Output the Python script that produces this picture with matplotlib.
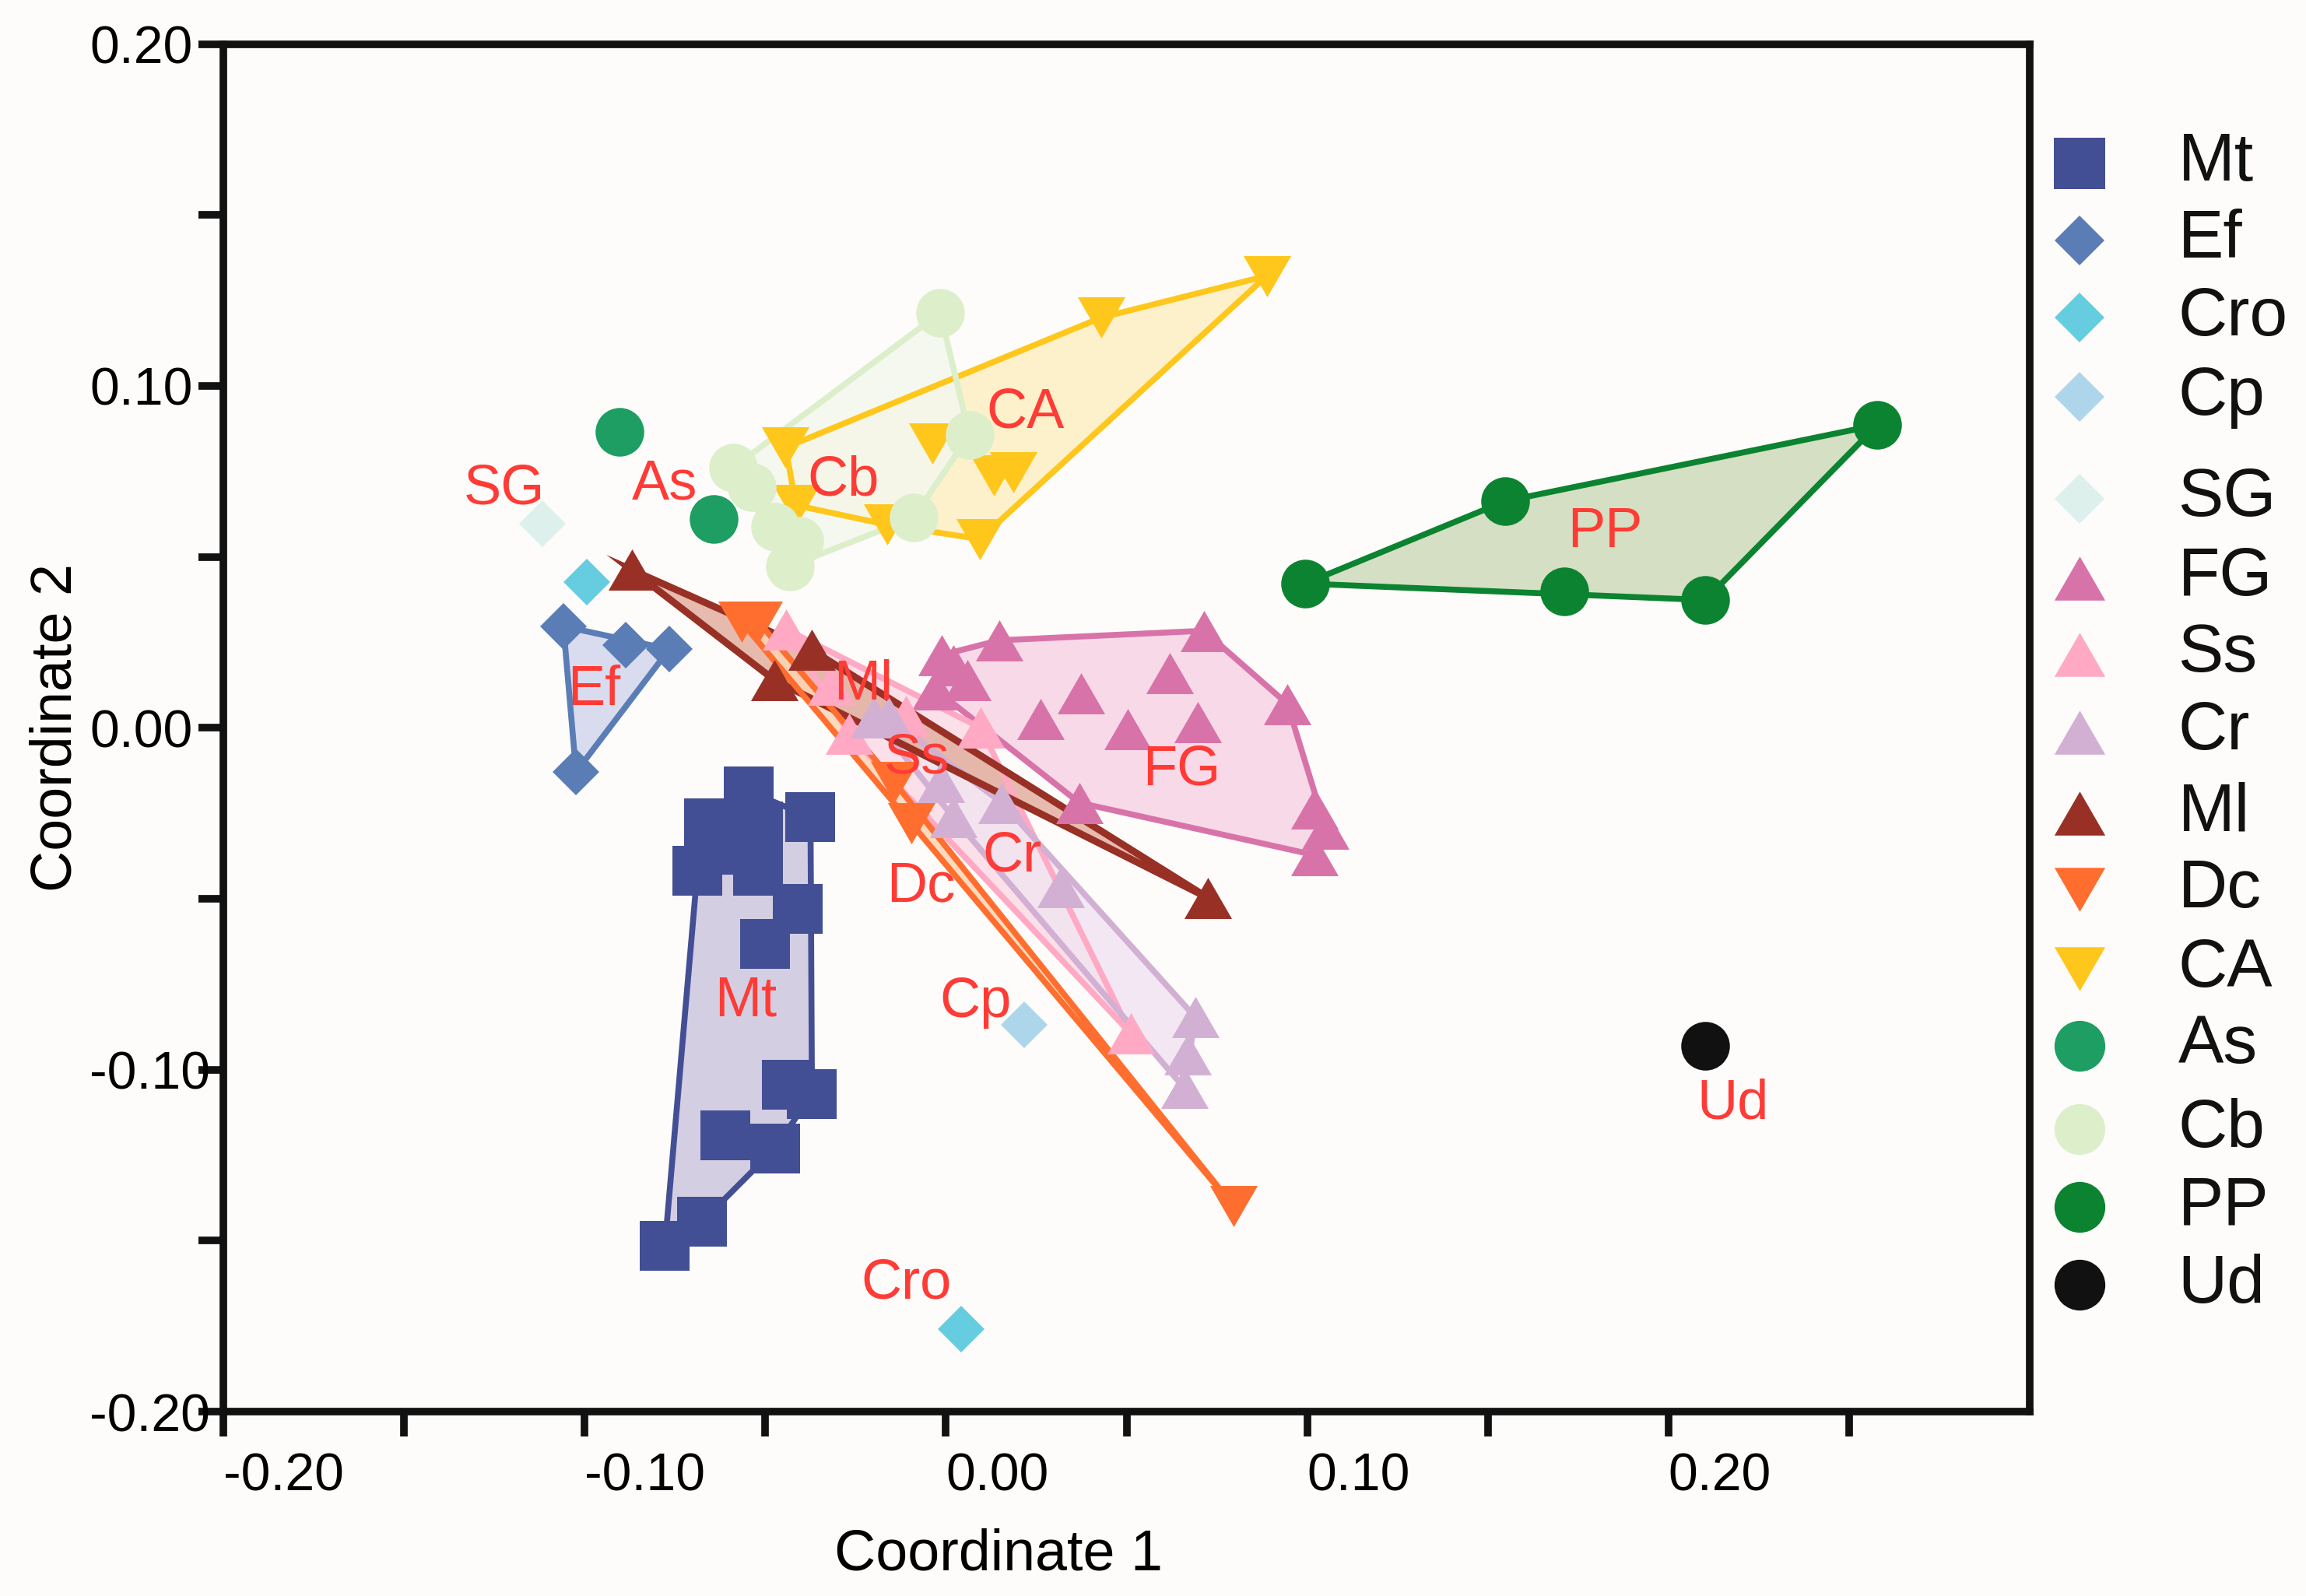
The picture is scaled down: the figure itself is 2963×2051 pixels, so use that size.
import numpy as np
import matplotlib
matplotlib.use("Agg")
import matplotlib.pyplot as plt
from matplotlib.patches import Polygon
from matplotlib.path import Path
from matplotlib.ticker import FixedLocator

plt.rcParams['font.family'] = ['Liberation Sans', 'DejaVu Sans']

# ---------------- data ----------------
groups = ['Mt', 'Ef', 'Cro', 'Cp', 'SG', 'FG', 'Ss', 'Cr', 'Ml', 'Dc', 'CA', 'As', 'Cb', 'PP', 'Ud']

mt_x = [-0.0546, -0.0375, -0.0656, -0.0521, -0.0595, -0.0688, -0.0521, -0.0411, -0.0501, -0.0440, -0.0371, -0.0611, -0.0473, -0.0676, -0.0778]
mt_y = [-0.0185, -0.0262, -0.0280, -0.0288, -0.0357, -0.0417, -0.0417, -0.0529, -0.0632, -0.1043, -0.1071, -0.1191, -0.1230, -0.1445, -0.1514]
ef_x = [-0.1059, -0.0886, -0.0766, -0.1024]
ef_y = [0.0297, 0.0241, 0.0230, -0.0129]
cro_x = [-0.0994, 0.0041]
cro_y = [0.0426, -0.1759]
cp_x = [0.0216]
cp_y = [-0.0869]
sg_x = [-0.1116]
sg_y = [0.0596]
fg_x = [-0.0012, 0.0020, -0.0029, 0.0060, 0.0147, 0.0714, 0.0261, 0.0373, 0.0619, 0.0503, 0.0697, 0.0945, 0.0369, 0.1020, 0.1051, 0.1020]
fg_y = [0.0213, 0.0182, 0.0112, 0.0139, 0.0256, 0.0284, 0.0026, 0.0102, 0.0159, -0.0004, 0.0017, 0.0070, -0.0219, -0.0237, -0.0294, -0.0372]
ss_x = [-0.0442, -0.0318, -0.0269, -0.0110, 0.0096, 0.0511]
ss_y = [0.0288, 0.0125, -0.0017, 0.0034, 0.0000, -0.0893]
cr_x = [-0.0200, -0.0159, -0.0014, 0.0020, 0.0155, 0.0318, 0.0690, 0.0668, 0.0660]
cr_y = [0.0030, 0.0030, -0.0159, -0.0262, -0.0219, -0.0465, -0.0846, -0.0955, -0.1054]
ml_x = [-0.0870, -0.0372, -0.0475, 0.0725]
ml_y = [0.0462, 0.0228, 0.0140, -0.0497]
dc_x = [-0.0566, -0.0519, -0.0143, -0.0095, 0.0797]
dc_y = [0.0310, 0.0310, -0.0159, -0.0280, -0.1400]
ca_x = [-0.0444, -0.0415, -0.0163, -0.0037, 0.0132, 0.0187, 0.0094, 0.0430, 0.0888]
ca_y = [0.0820, 0.0651, 0.0594, 0.0832, 0.0738, 0.0748, 0.0552, 0.1200, 0.1322]
as_x = [-0.0904, -0.0644]
as_y = [0.0866, 0.0611]
cb_x = [-0.0589, -0.0538, -0.0473, -0.0407, -0.0432, -0.0016, 0.0065, -0.0090]
cb_y = [0.0761, 0.0704, 0.0587, 0.0546, 0.0473, 0.1214, 0.0857, 0.0615]
pp_x = [0.0994, 0.1548, 0.1711, 0.2102, 0.2578]
pp_y = [0.0422, 0.0663, 0.0398, 0.0374, 0.0886]
ud_x = [0.2102]
ud_y = [-0.0929]

label_names = ['SG', 'As', 'Cb', 'CA', 'PP', 'Ef', 'Ml', 'Ss', 'FG', 'Cr', 'Dc', 'Mt', 'Cp', 'Cro', 'Ud']
label_x = [-0.1222, -0.0778, -0.0285, 0.0220, 0.1825, -0.0974, -0.0228, -0.0081, 0.0652, 0.0183, -0.0069, -0.0554, 0.0081, -0.0110, 0.2179]
label_y = [0.0697, 0.0710, 0.0723, 0.0920, 0.0572, 0.0108, 0.0125, -0.0090, -0.0125, -0.0378, -0.0465, -0.0800, -0.0804, -0.1626, -0.1101]

x_tick_vals = [-0.20, -0.10, 0.00, 0.10, 0.20]
x_tick_labels = ['-0.20', '-0.10', '0.00', '0.10', '0.20']
x_minor_vals = [-0.15, -0.05, 0.05, 0.15, 0.25]
y_tick_vals = [-0.20, -0.10, 0.00, 0.10, 0.20]
y_tick_labels = ['-0.20', '-0.10', '0.00', '0.10', '0.20']
y_minor_vals = [-0.15, -0.05, 0.05, 0.15]

data = {
    'Mt': (mt_x, mt_y), 'Ef': (ef_x, ef_y), 'Cro': (cro_x, cro_y), 'Cp': (cp_x, cp_y),
    'SG': (sg_x, sg_y), 'FG': (fg_x, fg_y), 'Ss': (ss_x, ss_y), 'Cr': (cr_x, cr_y),
    'Ml': (ml_x, ml_y), 'Dc': (dc_x, dc_y), 'CA': (ca_x, ca_y), 'As': (as_x, as_y),
    'Cb': (cb_x, cb_y), 'PP': (pp_x, pp_y), 'Ud': (ud_x, ud_y),
}

# ---------------- style ----------------
BG = '#fdfcfa'
LABEL_RED = '#ff3b36'
tri_up = Path([(0, 0.433), (-0.5, -0.433), (0.5, -0.433), (0, 0.433)],
              [Path.MOVETO, Path.LINETO, Path.LINETO, Path.CLOSEPOLY])
tri_dn = Path([(0, -0.433), (-0.5, 0.433), (0.5, 0.433), (0, -0.433)],
              [Path.MOVETO, Path.LINETO, Path.LINETO, Path.CLOSEPOLY])

colors = {
    'Mt': '#434f94', 'Ef': '#5a7db6', 'Cro': '#66cde0', 'Cp': '#aed6ea', 'SG': '#ddf0ec',
    'FG': '#d873a9', 'Ss': '#ffa9c4', 'Cr': '#d2b0d3', 'Ml': '#983026', 'Dc': '#ff6e2e',
    'CA': '#ffc71c', 'As': '#1e9e62', 'Cb': '#ddeecb', 'PP': '#0b8330', 'Ud': '#111111',
}
fills = {
    'Mt': '#cdc6e0', 'Ef': '#d3d7ec', 'FG': '#f8d3e5', 'Ss': '#fbdbe6', 'Cr': '#f1e4f1',
    'Ml': '#e2b0a0', 'Dc': '#fdd4b5', 'CA': '#fdf0c4', 'Cb': '#f4f8ee', 'PP': '#cddaba',
}
edge_lw = {'Ml': 6.5}
markers = {
    'Mt': 's', 'Ef': 'D', 'Cro': 'D', 'Cp': 'D', 'SG': 'D',
    'FG': tri_up, 'Ss': tri_up, 'Cr': tri_up, 'Ml': tri_up,
    'Dc': tri_dn, 'CA': tri_dn, 'As': 'o', 'Cb': 'o', 'PP': 'o', 'Ud': 'o',
}
msizes = {'s': 46, 'D': 31, 'o': 45}
TRI_MS = 44


def ms_of(m):
    return msizes[m] if isinstance(m, str) else TRI_MS


def convex_hull(xs, ys):
    pts = sorted(set(zip(xs, ys)))
    if len(pts) < 3:
        return pts

    def cross(o, a, b):
        return (a[0] - o[0]) * (b[1] - o[1]) - (a[1] - o[1]) * (b[0] - o[0])
    lower = []
    for p in pts:
        while len(lower) >= 2 and cross(lower[-2], lower[-1], p) <= 0:
            lower.pop()
        lower.append(p)
    upper = []
    for p in reversed(pts):
        while len(upper) >= 2 and cross(upper[-2], upper[-1], p) <= 0:
            upper.pop()
        upper.append(p)
    return lower[:-1] + upper[:-1]


# ---------------- figure ----------------
fig = plt.figure(figsize=(29.63, 20.51), dpi=100, facecolor=BG)
ax = fig.add_axes([0.0969, 0.1155, 0.7833, 0.8569], facecolor=BG)
ax.set_xlim(-0.20, 0.30)
ax.set_ylim(-0.20, 0.20)

for g in groups:
    xs, ys = data[g]
    if g in fills:
        hull = convex_hull(xs, ys)
        ax.add_patch(Polygon(hull, closed=True, facecolor=fills[g], edgecolor='none',
                             alpha=0.85, zorder=1))
        ax.add_patch(Polygon(hull, closed=True, facecolor='none', edgecolor=colors[g],
                             linewidth=edge_lw.get(g, 5.5), joinstyle='miter', zorder=2))

for g in groups:
    xs, ys = data[g]
    m = markers[g]
    ax.plot(xs, ys, linestyle='none', marker=m, markersize=ms_of(m),
            markerfacecolor=colors[g], markeredgewidth=0, zorder=3)

for name, lx, ly in zip(label_names, label_x, label_y):
    ax.text(lx, ly, name, color=LABEL_RED, fontsize=52, ha='center', va='center', zorder=5)

# spines and ticks
for sp in ax.spines.values():
    sp.set_linewidth(7)
    sp.set_color('#111111')

ax.xaxis.set_major_locator(FixedLocator(x_tick_vals))
ax.xaxis.set_minor_locator(FixedLocator(x_minor_vals))
ax.set_xticklabels(x_tick_labels)
ax.yaxis.set_major_locator(FixedLocator(y_tick_vals))
ax.yaxis.set_minor_locator(FixedLocator(y_minor_vals))
ax.set_yticklabels(y_tick_labels)

ax.tick_params(axis='both', which='both', direction='out', length=23, width=7, color='#111111')
ax.tick_params(axis='x', which='major', labelsize=49, pad=14)
ax.tick_params(axis='y', which='major', labelsize=49, pad=101)
for lbl in ax.get_xticklabels():
    lbl.set_horizontalalignment('left')
for lbl in ax.get_yticklabels():
    lbl.set_horizontalalignment('left')

ax.set_xlabel('Coordinate 1', fontsize=53)
ax.set_ylabel('Coordinate 2', fontsize=53)
ax.xaxis.set_label_coords(0.429, -0.085)
ax.yaxis.set_label_coords(-0.078, 0.5)

# ---------------- legend (manual layout) ----------------
legend_y = [0.8977, 0.8494, 0.8010, 0.7512, 0.6877, 0.6379, 0.5900, 0.5412,
            0.4905, 0.4426, 0.3929, 0.3449, 0.2924, 0.2436, 0.1948]
lax = fig.add_axes([0, 0, 1, 1], facecolor='none')
lax.set_xlim(0, 1)
lax.set_ylim(0, 1)
lax.axis('off')
leg_ms = {'s': 48, 'D': 33, 'o': 47}
for g, yy in zip(groups, legend_y):
    m = markers[g]
    size = leg_ms[m] if isinstance(m, str) else 47
    lax.plot([0.9018], [yy], linestyle='none', marker=m, markersize=size,
             markerfacecolor=colors[g], markeredgewidth=0)
    lax.text(0.9445, yy, g, fontsize=63, ha='left', va='center', color='#111111')

fig.savefig('out.png', dpi=100, facecolor=BG)
